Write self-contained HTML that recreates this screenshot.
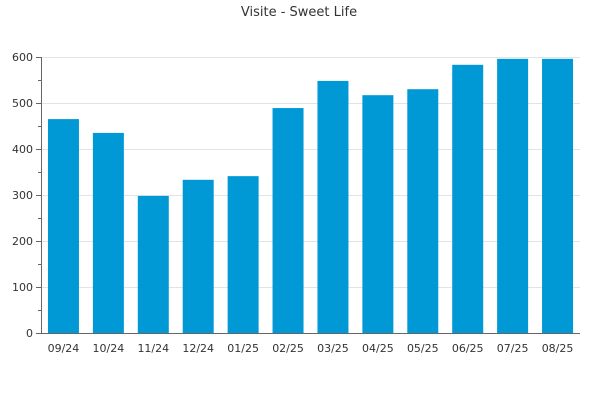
<!DOCTYPE html>
<html><head><meta charset="utf-8"><style>
body{margin:0;background:#fff;}
svg text{font-family:"DejaVu Sans","Liberation Sans",sans-serif;fill:#333;}
</style></head><body>
<svg id="c" width="600" height="400">
<text x="299" y="16" text-anchor="middle" font-size="13">Visite - Sweet Life</text>
</svg>
<script>
const categories=["09/24","10/24","11/24","12/24","01/25","02/25","03/25","04/25","05/25","06/25","07/25","08/25"];
const values=[465,435,298,333,341,489,548,517,530,583,596,596];
const yTicks=[0,100,200,300,400,500,600];
const svg=document.getElementById('c');
const NS='http://www.w3.org/2000/svg';
const x0=41,x1=580,y0=333,y1=57,yMax=600;
const y=v=>y0-(v/yMax)*(y0-y1);
const band=(x1-x0)/categories.length;
const x=i=>x0+band*i;
function mk(t,a){const e=document.createElementNS(NS,t);for(const k in a)e.setAttribute(k,a[k]);svg.appendChild(e);return e;}
yTicks.forEach(t=>{
  if(t>0){const g=mk('line',{x1:x0,x2:x1,y1:y(t)+0.5,y2:y(t)+0.5,stroke:'#e3e3e3'});
  
  }
  const tk=mk('line',{x1:x0-5,x2:x0,y1:y(t)+0.5,y2:y(t)+0.5,stroke:'#666'});
  
  
  const l=mk('text',{x:x0-8,y:y(t)+4,'text-anchor':'end','font-size':11});
  l.textContent=t;
  
  
  if(t<yMax){const m=mk('line',{x1:x0-3,x2:x0,y1:y(t+50)+0.5,y2:y(t+50)+0.5,stroke:'#666'});
  
  }
});
categories.forEach((c,i)=>{
  const bw=band*0.69;
  const r=mk('rect',{x:x(i)+(band-bw)/2,y:y(values[i]),width:bw,height:y0-y(values[i]),fill:'#0099d6'});
  
  
  const l=mk('text',{x:x(i)+band/2,y:y0+19,'text-anchor':'middle','font-size':11});
  l.textContent=c;
  
  
});
const ax=mk('line',{x1:x0+0.5,x2:x0+0.5,y1:y1,y2:y0,stroke:'#666'});


const bx=mk('line',{x1:x0,x2:x1,y1:y0+0.5,y2:y0+0.5,stroke:'#666'});


</script>
</body></html>
